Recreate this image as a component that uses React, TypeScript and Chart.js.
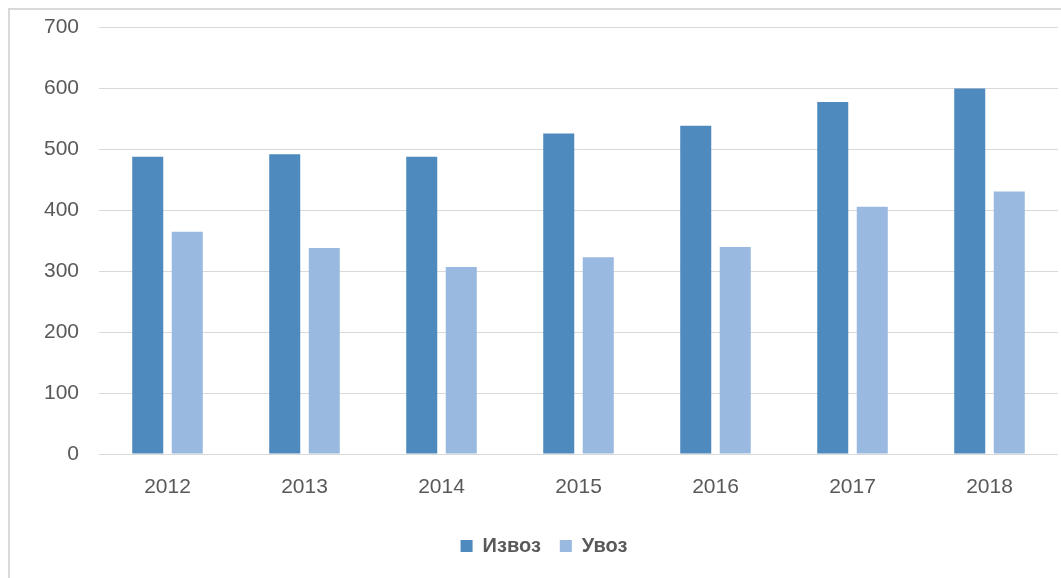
import React, { useEffect, useRef } from "react";
import { Chart, registerables } from "chart.js";

Chart.register(...registerables);

const years = ["2012", "2013", "2014", "2015", "2016", "2017", "2018"];
const izvoz = [488, 492, 488, 526, 539, 578, 600];
const uvoz = [365, 338, 307, 323, 340, 406, 431];
const yTicks = [0, 100, 200, 300, 400, 500, 600, 700];

export default function App() {
  const ref = useRef<HTMLCanvasElement>(null);

  useEffect(() => {
    if (!ref.current) return;
    const chart = new Chart(ref.current, {
      type: "bar",
      data: {
        labels: years,
        datasets: [
          {
            label: "Извоз",
            data: izvoz,
            backgroundColor: "#4f8abe",
            categoryPercentage: 0.577,
            barPercentage: 0.785,
          },
          {
            label: "Увоз",
            data: uvoz,
            backgroundColor: "#99b9e0",
            categoryPercentage: 0.577,
            barPercentage: 0.785,
          },
        ],
      },
      options: {
        animation: false,
        responsive: false,
        maintainAspectRatio: false,
        layout: { padding: { top: 3, bottom: 12, left: 20, right: 20 } },
        plugins: {
          tooltip: { enabled: false },
          legend: {
            position: "bottom",
            labels: {
              boxWidth: 12,
              boxHeight: 12,
              padding: 19,
              color: "#595959",
              font: { family: "'Liberation Sans', Arial, sans-serif", size: 20, weight: "bold" },
            },
          },
        },
        scales: {
          x: {
            grid: { display: false, drawTicks: false },
            border: { display: false },
            ticks: {
              color: "#595959",
              padding: 21,
              font: { family: "'Liberation Sans', Arial, sans-serif", size: 21 },
            },
            afterFit: (s: any) => {
              s.height = 63;
            },
          },
          y: {
            min: 0,
            max: 700,
            afterBuildTicks: (s: any) => {
              s.ticks = yTicks.map((v) => ({ value: v }));
            },
            grid: { color: "#d9d9d9", lineWidth: 1, drawTicks: false },
            border: { display: false },
            ticks: {
              color: "#595959",
              padding: 20,
              font: { family: "'Liberation Sans', Arial, sans-serif", size: 21 },
            },
            afterFit: (s: any) => {
              s.width = 69;
            },
          },
        },
      },
    });
    return () => chart.destroy();
  }, []);

  return (
    <div
      style={{
        position: "fixed",
        left: 8,
        top: 8,
        width: 1060,
        height: 580,
        borderLeft: "2px solid #d9d9d9",
        borderTop: "2px solid #d9d9d9",
        boxSizing: "border-box",
        background: "#fff",
        overflow: "hidden",
      }}
    >
      <canvas
        ref={ref}
        width={1068}
        height={583}
        style={{ display: "block", position: "absolute", left: 0, top: -15 }}
      />
    </div>
  );
}
